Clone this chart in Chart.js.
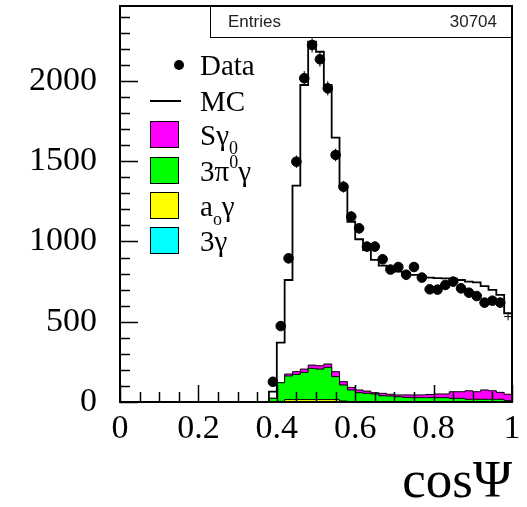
<!DOCTYPE html>
<html>
<head>
<meta charset="utf-8">
<script src="https://cdn.jsdelivr.net/npm/chart.js@4.4.1/dist/chart.umd.min.js"></script>
<style>
  body { margin: 0; background: #fff; }
  #wrap { position: relative; width: 527px; height: 507px; }
  #plot { position: absolute; left: 0; top: 0; }
  .stats { position: absolute; left: 210px; top: 6px; width: 302px; height: 32px; box-sizing: border-box;
           border: 1.5px solid #000; font: 17px "Liberation Sans", sans-serif; color: #222; }
  .stats span { position: absolute; top: 5px; }
  .legend { font: 29px "Liberation Serif", serif; color: #000; }
  .row { position: absolute; left: 150px; height: 34px; display: flex; align-items: center; }
  .key { width: 50px; height: 34px; position: relative; flex: none; }
  .box { position: absolute; left: 0; top: 3px; width: 29px; height: 27px; box-sizing: border-box; border: 1px solid #000; }
  .dot { position: absolute; left: 24px; top: 12px; width: 10px; height: 10px; border-radius: 50%; background: #000; }
  .dash { position: absolute; left: 0; top: 16px; width: 31px; height: 1.5px; background: #000; }
  sub { font-size: 62%; vertical-align: -0.5em; line-height: 0; }
  sup { font-size: 62%; vertical-align: 0.75em; line-height: 0; }
</style>
</head>
<body>
<div id="wrap">
  <canvas id="plot" width="527" height="507"></canvas>
  <div class="stats"><span style="left:17px">Entries</span><span style="right:14px">30704</span></div>
  <div class="legend">
    <div class="row" style="top:48px"><div class="key"><div class="dot"></div></div><span>Data</span></div>
    <div class="row" style="top:84px"><div class="key"><div class="dash"></div></div><span>MC</span></div>
    <div class="row" style="top:118px"><div class="key"><div class="box" style="background:#ff00ff"></div></div><span>Sγ<sub>0</sub></span></div>
    <div class="row" style="top:154px"><div class="key"><div class="box" style="background:#00ff00"></div></div><span>3π<sup>0</sup>γ</span></div>
    <div class="row" style="top:189px"><div class="key"><div class="box" style="background:#ffff00"></div></div><span>a<sub>o</sub>γ</span></div>
    <div class="row" style="top:224px"><div class="key"><div class="box" style="background:#00ffff"></div></div><span>3γ</span></div>
  </div>
</div>
<script>
// histogram bins (lower edges), width 0.02
const binLow = [0.38, 0.40, 0.42, 0.44, 0.46, 0.48, 0.50, 0.52, 0.54, 0.56,
                0.58, 0.60, 0.62, 0.64, 0.66, 0.68, 0.70, 0.72, 0.74, 0.76,
                0.78, 0.80, 0.82, 0.84, 0.86, 0.88, 0.90, 0.92, 0.94, 0.96, 0.98];
const binWidth = 0.02;

const dataCounts = [126, 473, 895, 1497, 2017, 2224, 2135, 1954, 1539, 1341,
                    1155, 1082, 968, 968, 889, 825, 841, 793, 841, 775,
                    702, 700, 729, 750, 708, 681, 660, 619, 631, 619, 532];
const mcCounts = [65, 370, 760, 1348, 1975, 2245, 2182, 1975, 1647, 1348,
                  1123, 1014, 947, 885, 850, 822, 812, 802, 792, 782,
                  775, 772, 770, 768, 760, 750, 745, 722, 698, 667, 553];
// MC components
const sGamma = [0, 0, 12, 17, 20, 20, 21, 21, 31, 21,
                16, 17, 14, 8, 15, 11, 11, 15, 17, 17,
                20, 23, 23, 41, 41, 53, 47, 58, 53, 43, 40];
const pi3Gamma = [23, 116, 147, 157, 170, 195, 190, 201, 143, 100,
                  73, 56, 52, 48, 37, 35, 31, 27, 25, 25,
                  25, 25, 25, 21, 21, 15, 15, 15, 15, 15, 6];
const a0Gamma = [0, 4, 15, 15, 15, 15, 15, 15, 15, 6,
                 2, 2, 2, 2, 2, 2, 2, 2, 2, 2,
                 2, 2, 2, 2, 2, 2, 2, 2, 2, 2, 2];
const gamma3 = [0, 0, 0, 0, 0, 0, 0, 0, 0, 0,
                0, 0, 0, 0, 0, 0, 0, 0, 0, 0,
                0, 0, 0, 0, 0, 0, 0, 0, 0, 0, 0];

const xTicks = [0, 0.2, 0.4, 0.6, 0.8, 1];
const xTickLabels = ['0', '0.2', '0.4', '0.6', '0.8', '1'];
const yTicks = [0, 500, 1000, 1500, 2000];
const yTickLabels = ['0', '500', '1000', '1500', '2000'];
const yMax = 2467;
const xMinorStep = 0.05, yMinorStep = 100;

function addArrays(a, b) { return a.map((v, i) => v + b[i]); }
const cumCyan = gamma3;
const cumYellow = addArrays(cumCyan, a0Gamma);
const cumGreen = addArrays(cumYellow, pi3Gamma);
const cumMagenta = addArrays(cumGreen, sGamma);

// step outline: left edges + closing right edge
function steps(values) {
  const pts = [{x: binLow[0], y: 0}];
  values.forEach((v, i) => pts.push({x: binLow[i], y: v}));
  const end = binLow[binLow.length - 1] + binWidth;
  pts.push({x: end, y: values[values.length - 1]});
  pts.push({x: end, y: 0});
  return pts;
}

function stackSet(values, color, order) {
  return {
    type: 'line', data: steps(values), stepped: 'before', fill: 'origin',
    backgroundColor: color, borderColor: '#000', borderWidth: 1,
    pointRadius: 0, order: order
  };
}

const errorBars = {
  id: 'errorBars',
  afterDatasetsDraw(chart) {
    const {ctx, scales: {x, y}} = chart;
    ctx.save();
    ctx.strokeStyle = '#000';
    ctx.lineWidth = 1;
    dataCounts.forEach((n, i) => {
      const err = Math.sqrt(n);
      const cx = x.getPixelForValue(binLow[i] + binWidth / 2);
      const cy = y.getPixelForValue(n);
      ctx.beginPath();
      ctx.moveTo(cx, y.getPixelForValue(n - err));
      ctx.lineTo(cx, y.getPixelForValue(n + err));
      ctx.moveTo(x.getPixelForValue(binLow[i]), cy);
      ctx.lineTo(x.getPixelForValue(binLow[i] + binWidth), cy);
      ctx.stroke();
    });
    ctx.restore();
  }
};

// ROOT-like frame with inward ticks
const frame = {
  id: 'frame',
  afterDraw(chart) {
    const {ctx, chartArea: a, scales: {x, y}} = chart;
    ctx.save();
    ctx.strokeStyle = '#000';
    ctx.lineWidth = 1.5;
    ctx.beginPath();
    for (let k = 0; k * yMinorStep <= yMax; k++) {
      const v = k * yMinorStep;
      const py = Math.round(y.getPixelForValue(v)) + 0.5;
      const len = yTicks.includes(v) ? 18 : 10;
      ctx.moveTo(a.left, py);
      ctx.lineTo(a.left + len, py);
    }
    for (let k = 0; k * xMinorStep <= 1 + 1e-9; k++) {
      const v = k * xMinorStep;
      const px = Math.round(x.getPixelForValue(v)) + 0.5;
      const major = xTicks.some(t => Math.abs(t - v) < 1e-6);
      ctx.moveTo(px, a.bottom);
      ctx.lineTo(px, a.bottom - (major ? 17 : 10));
    }
    ctx.stroke();
    ctx.lineWidth = 2;
    ctx.strokeRect(a.left, a.top, a.right - a.left, a.bottom - a.top);
    ctx.restore();
  }
};

Chart.defaults.font.family = '"Liberation Serif", serif';
Chart.defaults.color = '#000';

new Chart(document.getElementById('plot'), {
  type: 'line',
  data: {
    datasets: [
      {
        type: 'scatter', label: 'Data',
        data: binLow.map((lo, i) => ({x: lo + binWidth / 2, y: dataCounts[i]})),
        backgroundColor: '#000', borderColor: '#000',
        pointRadius: ctx => ctx.dataIndex === dataCounts.length - 1 ? 0 : 4.8,
        pointStyle: 'circle', order: 0
      },
      {
        type: 'line', label: 'MC', data: steps(mcCounts), stepped: 'before',
        borderColor: '#000', borderWidth: 1.8, pointRadius: 0, fill: false, order: 1
      },
      stackSet(cumCyan, '#00ffff', 2),
      stackSet(cumYellow, '#ffff00', 3),
      stackSet(cumGreen, '#00ff00', 4),
      stackSet(cumMagenta, '#ff00ff', 5)
    ]
  },
  options: {
    responsive: false,
    animation: false,
    layout: { padding: { top: 6, right: 15, left: 0, bottom: 0 } },
    plugins: { legend: { display: false }, tooltip: { enabled: false } },
    scales: {
      x: {
        type: 'linear', min: 0, max: 1,
        grid: { display: false, tickLength: 7 }, border: { display: false },
        afterBuildTicks(scale) { scale.ticks = xTicks.map(v => ({value: v})); },
        afterFit(scale) { scale.height = 105; scale.paddingLeft = 0; scale.paddingRight = 0; },
        ticks: {
          autoSkip: false, maxRotation: 0, padding: 0,
          font: { size: 34 },
          callback: (v, i) => xTickLabels[i]
        },
        title: {
          display: true, text: 'cosΨ', align: 'end',
          font: { size: 53, lineHeight: 0.9 }, padding: 0
        }
      },
      y: {
        type: 'linear', min: 0, max: yMax,
        grid: { display: false, tickLength: 23 }, border: { display: false },
        afterBuildTicks(scale) { scale.ticks = yTicks.map(v => ({value: v})); },
        afterFit(scale) { scale.width = 120; scale.paddingTop = 0; scale.paddingBottom = 0; },
        ticks: {
          autoSkip: false, padding: 0, font: { size: 34 },
          callback: (v, i) => yTickLabels[i]
        }
      }
    }
  },
  plugins: [errorBars, frame]
});
</script>
</body>
</html>
